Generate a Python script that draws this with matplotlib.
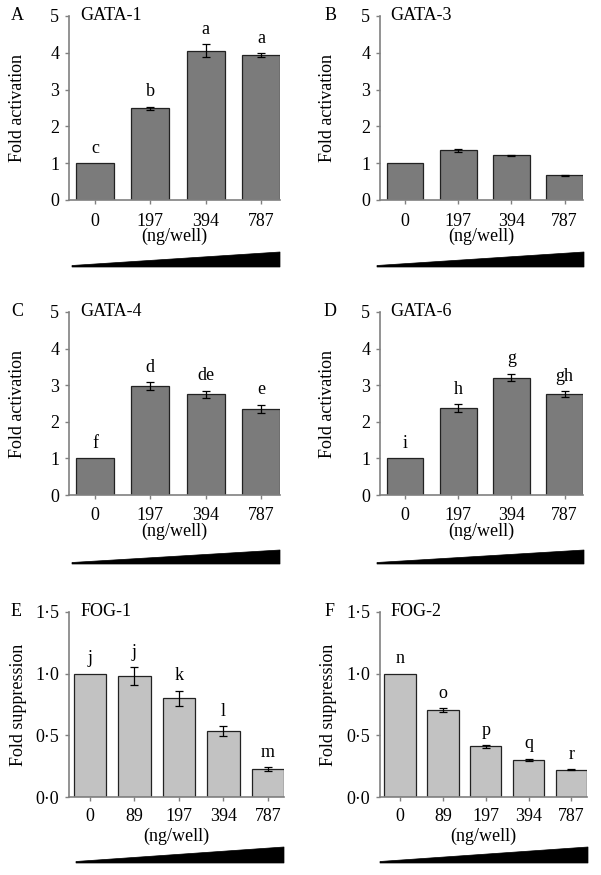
import numpy as np
import matplotlib.pyplot as plt
from matplotlib.patches import Polygon

plt.rcParams['font.family'] = ['Liberation Serif', 'DejaVu Serif']

# dose labels
doses4 = ['0', '197', '394', '787']
doses5 = ['0', '89', '197', '394', '787']

# fold activation / suppression, errors and significance letters
gata1 = [1.0, 2.49, 4.06, 3.94]
gata1_err = [0.0, 0.05, 0.17, 0.05]
gata1_sig = ['c', 'b', 'a', 'a']

gata3 = [1.0, 1.35, 1.21, 0.67]
gata3_err = [0.0, 0.04, 0.02, 0.02]
gata3_sig = None

gata4 = [1.0, 2.98, 2.75, 2.35]
gata4_err = [0.0, 0.11, 0.1, 0.12]
gata4_sig = ['f', 'd', 'de', 'e']

gata6 = [1.0, 2.38, 3.21, 2.75]
gata6_err = [0.0, 0.1, 0.1, 0.08]
gata6_sig = ['i', 'h', 'g', 'gh']

fog1 = [1.0, 0.98, 0.80, 0.535, 0.225]
fog1_err = [0.0, 0.073, 0.06, 0.04, 0.015]
fog1_sig = ['j', 'j', 'k', 'l', 'm']

fog2 = [1.0, 0.705, 0.41, 0.30, 0.22]
fog2_err = [0.0, 0.015, 0.01, 0.01, 0.005]
fog2_sig = ['n', 'o', 'p', 'q', 'r']

act_ticks = [0, 1, 2, 3, 4, 5]
sup_ticks = [0.0, 0.5, 1.0, 1.5]
sup_labels = ['0·0', '0·5', '1·0', '1·5']

W, H = 601, 875
fig = plt.figure(figsize=(W / 100, H / 100), dpi=100)

dark = '#7b7b7b'
light = '#c2c2c2'
spine_col = '#808080'


def px_axes(x0, x1, ytop, ybot):
    return fig.add_axes([x0 / W, 1 - ybot / H, (x1 - x0) / W, (ybot - ytop) / H])


def panel(ax, letter, title, cats, vals, errs, sig, color, ymax, yticks, ylabels,
          ylabel, ylab_x, xlab_y, wedge_px):
    n = len(cats)
    x = np.arange(n)
    bw = 0.69 if n == 4 else 0.73
    ax.bar(x, vals, width=bw, color=color, edgecolor='#222222', linewidth=0.9, zorder=2)
    ax.errorbar(x[1:], vals[1:], yerr=errs[1:], fmt='none', ecolor='black',
                elinewidth=0.9, capsize=3, capthick=0.9, zorder=3)
    if sig:
        off = ymax * 0.035
        for xi, v, e, s in zip(x, vals, errs, sig):
            ax.text(xi, v + e + off, s, ha='center', va='bottom', fontsize=13)
    ax.set_ylim(0, ymax)
    ax.set_xlim(-0.47, n - 1 + bw / 2)
    ax.set_yticks(yticks)
    ax.set_yticklabels(ylabels)
    ax.set_xticks(x)
    ax.set_xticklabels(cats)
    ax.tick_params(axis='both', labelsize=13, color=spine_col, length=3, width=1)
    ax.tick_params(axis='x', pad=6 if n == 4 else 5)
    ax.tick_params(axis='y', pad=4)
    for s in ['top', 'right']:
        ax.spines[s].set_visible(False)
    for s in ['left', 'bottom']:
        ax.spines[s].set_color(spine_col)
        ax.spines[s].set_linewidth(1.2)
    ax.set_ylabel(ylabel, fontsize=13)
    ax.yaxis.set_label_coords(ylab_x, 0.5)
    ax.yaxis.label.set_va('center')
    ax.set_xlabel('(ng/well)', fontsize=13)
    ax.xaxis.set_label_coords(0.5, xlab_y)
    ax.xaxis.label.set_va('center')
    ax.text(0.052, 1.0, title, transform=ax.transAxes, fontsize=13, va='center', ha='left')
    ax.text(-0.245, 1.0, letter, transform=ax.transAxes, fontsize=13, va='center', ha='center')
    # dose wedge under the panel
    xl, xr, yb, yt = wedge_px
    poly = Polygon([(xl / W, 1 - yb / H), (xr / W, 1 - yb / H),
                    (xr / W, 1 - yt / H), (xl / W, 1 - (yb - 1.5) / H)],
                   closed=True, transform=fig.transFigure, facecolor='black',
                   edgecolor='black', linewidth=0.5)
    fig.add_artist(poly)


act_labels = [str(t) for t in act_ticks]

axA = px_axes(69, 280, 16, 200)
panel(axA, 'A', 'GATA-1', doses4, gata1, gata1_err, gata1_sig, dark, 5,
      act_ticks, act_labels, 'Fold activation', -0.242, -0.2, (72, 280, 267, 252))
axB = px_axes(380, 583, 16, 200)
panel(axB, 'B', 'GATA-3', doses4, gata3, gata3_err, gata3_sig, dark, 5,
      act_ticks, act_labels, 'Fold activation', -0.261, -0.2, (377, 584, 267, 252))
axC = px_axes(69, 280, 312, 495)
panel(axC, 'C', 'GATA-4', doses4, gata4, gata4_err, gata4_sig, dark, 5,
      act_ticks, act_labels, 'Fold activation', -0.242, -0.2, (72, 280, 564, 550))
axD = px_axes(380, 583, 312, 495)
panel(axD, 'D', 'GATA-6', doses4, gata6, gata6_err, gata6_sig, dark, 5,
      act_ticks, act_labels, 'Fold activation', -0.261, -0.2, (377, 584, 564, 550))
axE = px_axes(69, 284, 612, 797)
panel(axE, 'E', 'FOG-1', doses5, fog1, fog1_err, fog1_sig, light, 1.5,
      sup_ticks, sup_labels, 'Fold suppression', -0.237, -0.21, (76, 284, 863, 847))
axF = px_axes(380, 587, 612, 797)
panel(axF, 'F', 'FOG-2', doses5, fog2, fog2_err, fog2_sig, light, 1.5,
      sup_ticks, sup_labels, 'Fold suppression', -0.25, -0.21, (380, 588, 863, 847))

fig.savefig('out.png', dpi=100)
